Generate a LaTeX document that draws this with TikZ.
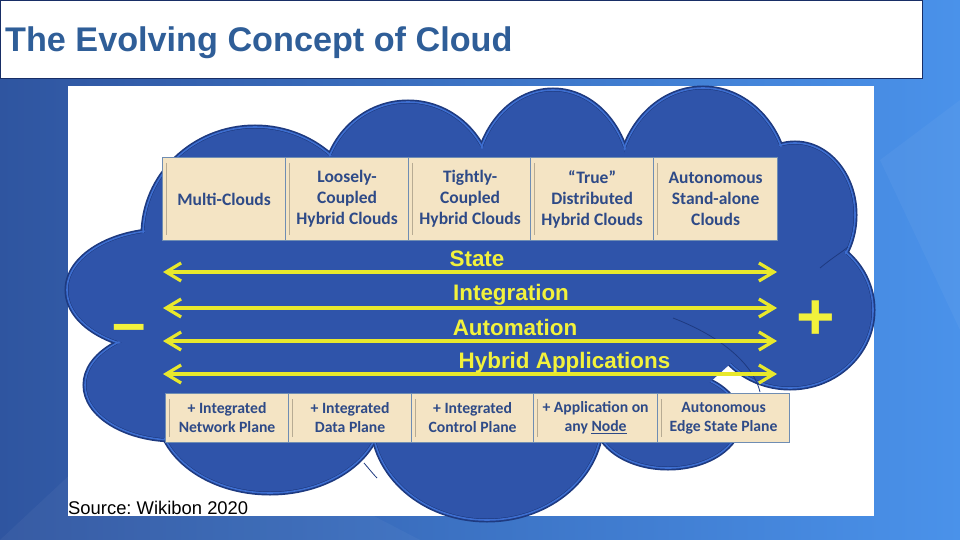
\documentclass[tikz,border=0pt]{standalone}
\usepackage{fontspec}
\setmainfont{Liberation Sans}
\newfontfamily\carlito{Carlito}
\usetikzlibrary{arrows.meta}
\frenchspacing
\definecolor{bgL}{HTML}{2F55A0}
\definecolor{bgR}{HTML}{4A92EA}
\definecolor{titleblue}{HTML}{2F5E98}
\definecolor{cloudfill}{HTML}{2F54AA}
\definecolor{cloudedge}{HTML}{1E3A80}
\definecolor{cloudrim}{HTML}{3D6ED0}
\definecolor{boxfill}{HTML}{F4E4C4}
\definecolor{boxedge}{HTML}{6F8DB3}
\definecolor{boxtext}{HTML}{2E4A87}
\definecolor{arrowyellow}{HTML}{E8E82C}
\definecolor{labelyellow}{HTML}{F2F23C}
\tikzset{
  topbox/.style={draw=boxedge, line width=1.2pt, fill=boxfill, minimum width=123pt, minimum height=83pt, inner sep=2pt, anchor=north west, align=center, text=boxtext, font=\carlito\bfseries\fontsize{17.5}{21}\selectfont},
  botbox/.style={draw=boxedge, line width=1.2pt, fill=boxfill, minimum height=49pt, inner sep=2pt, anchor=north west, align=center, text=boxtext, font=\carlito\bfseries\fontsize{15.7}{19}\selectfont},
  spanarrow/.style={draw=arrowyellow, line width=3.2pt, {Straight Barb[length=15pt,width=18pt]}-{Straight Barb[length=15pt,width=18pt]}},
  spanlabel/.style={text=labelyellow, font=\bfseries\fontsize{22.4}{26}\selectfont, anchor=base, inner sep=0pt},
}
\begin{document}
\begin{tikzpicture}[x=1pt,y=-1pt]
\useasboundingbox (0,0) rectangle (960,540);
% background
\shade[left color=bgL, right color=bgR] (0,0) rectangle (960,540);
\fill[white, opacity=0.04] (0,540) -- (150,400) -- (420,540) -- cycle;
\fill[white, opacity=0.04] (880,160) -- (960,100) -- (960,330) -- cycle;
% title bar
\node[draw=cloudedge!80!black, line width=0.8pt, fill=white, minimum width=922pt, minimum height=78pt, anchor=north west, inner sep=0pt] (titlebar) at (0,0) {};
\node[text=titleblue, font=\bfseries\fontsize{34.2}{40}\selectfont, anchor=base west, inner sep=0pt] (title) at (5,52) {The Evolving Concept of Cloud};
% white panel
\node[fill=white, minimum width=806pt, minimum height=430pt, anchor=north west, inner sep=0pt] (panel) at (68,86) {};
% cloud
\def\cloudlist{255/235/112/108, 408/190/85/88, 553/185/78/95, 703/185/85/97, 795/215/60/72, 790/310/83/78, 668/420/72/48, 487/420/115/100, 270/410/112/83, 175/385/90/55, 165/290/98/60}
\foreach \cx/\cy/\rx/\ry in \cloudlist {
  \draw[cloudedge, line width=5pt] (\cx,\cy) ellipse [x radius=\rx, y radius=\ry];
}
\foreach \cx/\cy/\rx/\ry in \cloudlist {
  \draw[cloudrim, line width=1.6pt] (\cx,\cy) ellipse [x radius=\rx, y radius=\ry];
}
\foreach \cx/\cy/\rx/\ry in \cloudlist {
  \fill[cloudfill] (\cx,\cy) ellipse [x radius={\rx-1.5}, y radius={\ry-1.5}];
}
\fill[cloudfill] (255,235) -- (408,190) -- (553,185) -- (703,185) -- (795,215) -- (790,310) -- (668,420) -- (487,420) -- (270,410) -- (175,385) -- (165,290) -- cycle;
% faint inner seams
\draw[cloudedge, line width=0.8pt] (673,318) .. controls (730,340) and (755,370) .. (760,392);
\draw[cloudedge, line width=0.8pt] (820,268) .. controls (832,258) and (842,252) .. (848,247);
\draw[cloudedge, line width=0.8pt] (364,463) .. controls (370,470) and (374,475) .. (377,478);
% top boxes
\node[topbox] (b1) at (162,157) {Multi-Clouds};
\node[topbox] (b2) at (285,157) {Loosely-\\Coupled\\Hybrid Clouds};
\node[topbox] (b3) at (408,157) {Tightly-\\Coupled\\Hybrid Clouds};
\node[topbox, minimum width=123pt] (b4) at (530,157) {“True”\\Distributed\\Hybrid Clouds};
\node[topbox, minimum width=124pt] (b5) at (653,157) {Autonomous\\Stand-alone\\Clouds};
% bottom boxes
\node[botbox, minimum width=123pt] (c1) at (165,393) {+ Integrated\\Network Plane\vphantom{\underline{N}}};
\node[botbox, minimum width=123pt] (c2) at (288,393) {+ Integrated\\Data Plane\vphantom{\underline{N}}};
\node[botbox, minimum width=122pt] (c3) at (411,393) {+ Integrated\\Control Plane\vphantom{\underline{N}}};
\node[botbox, minimum width=124pt] (c4) at (533,393) {+ Application on\\any \underline{Node}};
\node[botbox, minimum width=132pt] (c5) at (657,393) {Autonomous\\Edge State Plane\vphantom{\underline{N}}};
% inner bevel lines
\foreach \n in {b1,b2,b3,b4,b5,c1,c2,c3,c4,c5} {
  \draw[boxfill!75!black, line width=0.8pt] ([xshift=4pt,yshift=-6pt]\n.north west) -- ([xshift=4pt,yshift=6pt]\n.south west);
}
% span arrows
\coordinate (l1) at (163,272); \coordinate (r1) at (777,272);
\coordinate (l2) at (163,308); \coordinate (r2) at (777,308);
\coordinate (l3) at (163,341); \coordinate (r3) at (777,341);
\coordinate (l4) at (163,374); \coordinate (r4) at (777,374);
\draw[spanarrow] (l1) -- (r1);
\draw[spanarrow] (l2) -- (r2);
\draw[spanarrow] (l3) -- (r3);
\draw[spanarrow] (l4) -- (r4);
\node[spanlabel] (s1) at (477,266) {State};
\node[spanlabel] (s2) at (511,300) {Integration};
\node[spanlabel] (s3) at (515,335) {Automation};
\node[spanlabel] (s4) at (564.5,368) {Hybrid Applications};
% minus and plus
\node[text=labelyellow, font=\bfseries\fontsize{60}{64}\selectfont, inner sep=0pt] (minus) at (129,334) {–};
\node[text=labelyellow, font=\bfseries\fontsize{66}{70}\selectfont, inner sep=0pt] (plus) at (816,320) {+};
% source
\node[text=black, font=\fontsize{18.4}{22}\selectfont, anchor=base west, inner sep=0pt] (src) at (68,514) {Source: Wikibon 2020};
\end{tikzpicture}
\end{document}
